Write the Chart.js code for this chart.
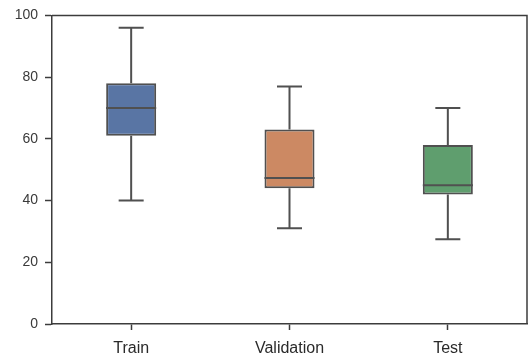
<!DOCTYPE html>
<html>
<head>
<meta charset="utf-8">
<script src="https://cdn.jsdelivr.net/npm/chart.js@4/dist/chart.umd.min.js"></script>
<style>
  html, body { margin: 0; padding: 0; background: #fff; }
  #wrap { width: 529px; height: 358px; }
</style>
</head>
<body>
<div id="wrap"><canvas id="c" width="529" height="358"></canvas></div>
<script>
// ---- data ----
const categories = ["Train", "Validation", "Test"];
const whiskerLow = [40, 31, 27.5];
const q1 = [61, 44, 42];
const median = [70, 47.3, 45];
const q3 = [78, 63, 58];
const whiskerHigh = [96, 77, 70];
const yTicks = [0, 20, 40, 60, 80, 100];

const boxColors = ["#5975a4", "#cc8963", "#5f9e6e"];
const lineColor = "#505050";
const axisColor = "#3c3c3c";

const boxPlugin = {
  id: "boxParts",
  beforeDatasetsDraw(chart) {
    const { ctx, scales: { x, y } } = chart;
    ctx.save();
    ctx.strokeStyle = lineColor;
    ctx.lineWidth = 2;
    const meta = chart.getDatasetMeta(0);
    categories.forEach((c, i) => {
      const cx = x.getPixelForValue(i);
      const bw = meta.data[i].width;
      const capHalf = bw / 4;
      ctx.beginPath();
      ctx.moveTo(cx, y.getPixelForValue(whiskerHigh[i]));
      ctx.lineTo(cx, y.getPixelForValue(q3[i]));
      ctx.moveTo(cx, y.getPixelForValue(q1[i]));
      ctx.lineTo(cx, y.getPixelForValue(whiskerLow[i]));
      ctx.moveTo(cx - capHalf, y.getPixelForValue(whiskerHigh[i]));
      ctx.lineTo(cx + capHalf, y.getPixelForValue(whiskerHigh[i]));
      ctx.moveTo(cx - capHalf, y.getPixelForValue(whiskerLow[i]));
      ctx.lineTo(cx + capHalf, y.getPixelForValue(whiskerLow[i]));
      ctx.stroke();
    });
    ctx.restore();
  },
  afterDatasetsDraw(chart) {
    const { ctx, scales: { x, y }, chartArea } = chart;
    ctx.save();
    ctx.strokeStyle = lineColor;
    ctx.lineWidth = 2;
    const meta = chart.getDatasetMeta(0);
    categories.forEach((c, i) => {
      const cx = x.getPixelForValue(i);
      const bw = meta.data[i].width;
      const my = y.getPixelForValue(median[i]);
      ctx.beginPath();
      ctx.moveTo(cx - bw / 2, my);
      ctx.lineTo(cx + bw / 2, my);
      ctx.stroke();
    });
    // top and right spines
    ctx.strokeStyle = axisColor;
    ctx.lineWidth = 1.5;
    ctx.beginPath();
    ctx.moveTo(chartArea.left, chartArea.top);
    ctx.lineTo(chartArea.right, chartArea.top);
    ctx.lineTo(chartArea.right, chartArea.bottom);
    ctx.stroke();
    ctx.restore();
  }
};

new Chart(document.getElementById("c"), {
  type: "bar",
  data: {
    labels: categories,
    datasets: [{
      data: categories.map((c, i) => [q1[i], q3[i]]),
      backgroundColor: boxColors,
      borderColor: lineColor,
      borderWidth: 2,
      borderSkipped: false,
      categoryPercentage: 1,
      barPercentage: 0.316
    }]
  },
  options: {
    responsive: false,
    animation: false,
    layout: { padding: { top: 15, right: 2, left: 0, bottom: 0 } },
    plugins: { legend: { display: false }, tooltip: { enabled: false } },
    scales: {
      x: {
        grid: { offset: false, drawOnChartArea: false, drawTicks: true, tickLength: 6, tickColor: axisColor, tickWidth: 1.5 },
        border: { color: axisColor, width: 1.5 },
        ticks: { color: "#2a2a2a", font: { family: "'Liberation Sans', Arial, sans-serif", size: 16 }, padding: 9 },
        afterFit(s) { s.height = 34; }
      },
      y: {
        min: 0, max: 100,
        afterBuildTicks(s) { s.ticks = yTicks.map(v => ({ value: v })); },
        grid: { drawOnChartArea: false, drawTicks: true, tickLength: 7, tickColor: axisColor, tickWidth: 1.5 },
        border: { color: axisColor, width: 1.5 },
        ticks: { color: "#3a3a3a", font: { family: "'Liberation Sans', Arial, sans-serif", size: 14 }, padding: 7 },
        afterFit(s) { s.width = 52; }
      }
    }
  },
  plugins: [boxPlugin]
});
</script>
</body>
</html>
